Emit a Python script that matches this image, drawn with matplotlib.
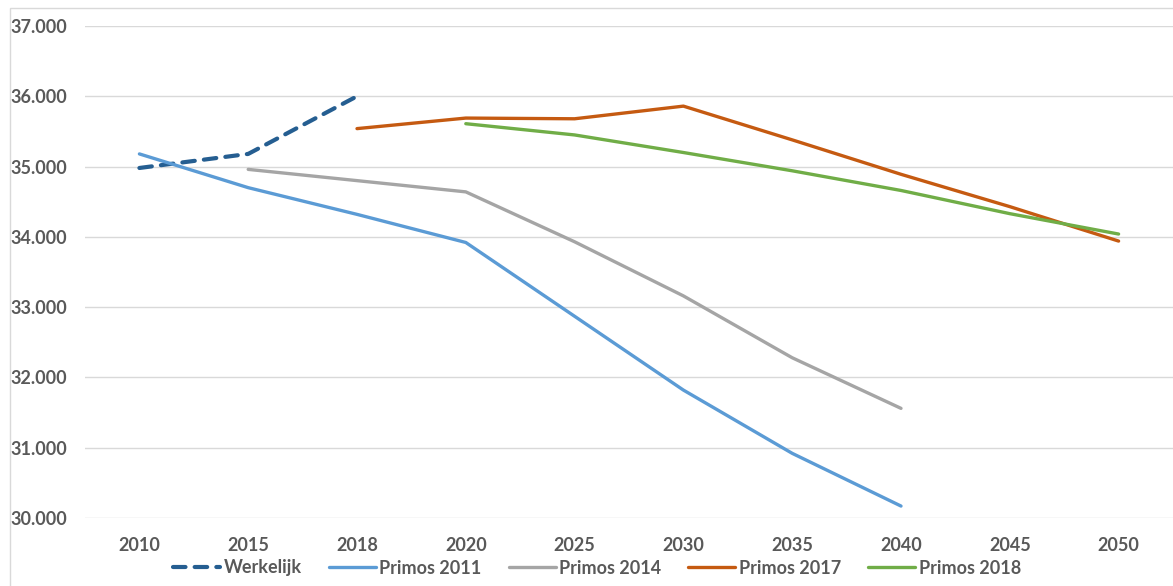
import numpy as np
import matplotlib.pyplot as plt
from matplotlib.patches import Rectangle

# x-axis categories (evenly spaced, not a true time axis)
years = ['2010', '2015', '2018', '2020', '2025', '2030', '2035', '2040', '2045', '2050']

# series values, None where a series has no data
werkelijk = [34980, 35180, 36000, None, None, None, None, None, None, None]
primos_2011 = [35180, 34700, 34320, 33920, 32870, 31820, 30920, 30170, None, None]
primos_2014 = [None, 34960, 34800, 34640, 33930, 33160, 32280, 31560, None, None]
primos_2017 = [None, None, 35540, 35690, 35680, 35860, 35380, 34890, 34430, 33940]
primos_2018 = [None, None, None, 35610, 35450, 35200, 34940, 34660, 34330, 34040]

series = [
    ('Werkelijk', werkelijk, '#255E91', True),
    ('Primos 2011', primos_2011, '#5B9BD5', False),
    ('Primos 2014', primos_2014, '#A5A5A5', False),
    ('Primos 2017', primos_2017, '#C55A11', False),
    ('Primos 2018', primos_2018, '#70AD47', False),
]

plt.rcParams['font.family'] = ['Lato', 'DejaVu Sans']
plt.rcParams['font.weight'] = 'bold'
text_color = '#595959'

fig = plt.figure(figsize=(11.73, 5.86), dpi=100)
ax = fig.add_axes([85 / 1173, 1 - 518 / 586, 1088 / 1173, 492 / 586])

x = np.arange(len(years))
for name, values, color, dashed in series:
    y = np.array([np.nan if v is None else v for v in values], dtype=float)
    if dashed:
        ax.plot(x, y, color=color, lw=3, label=name, dashes=[3, 2.2],
                dash_capstyle='round', solid_capstyle='round')
    else:
        ax.plot(x, y, color=color, lw=2.4, label=name, solid_capstyle='round')

ax.set_xlim(-0.5, len(years) - 0.5)
ax.set_ylim(30000, 37000)
ax.set_xticks(x)
ax.set_xticklabels(years)
ax.set_yticks(np.arange(30000, 37001, 1000))
ax.set_yticklabels([f'{v // 1000}.000' for v in range(30000, 37001, 1000)])

ax.grid(axis='y', color='#D9D9D9', lw=1)
ax.set_axisbelow(True)
for s in ax.spines.values():
    s.set_visible(False)
ax.tick_params(length=0, labelsize=13, labelcolor=text_color)
ax.tick_params(axis='x', pad=14)
ax.tick_params(axis='y', pad=13)

# chart border
fig.patches.append(Rectangle((10 / 1173, -0.1), 1.2, 1.1 - 8 / 586,
                             transform=fig.transFigure, fill=False,
                             edgecolor='#D9D9D9', lw=1))

leg = fig.legend(loc='center', bbox_to_anchor=(597 / 1173, 1 - 568 / 586),
                 ncol=5, frameon=False, fontsize=13, handlelength=2.6,
                 columnspacing=1.5, handletextpad=0.2)
for t in leg.get_texts():
    t.set_color(text_color)

fig.savefig('out.png', dpi=100)
